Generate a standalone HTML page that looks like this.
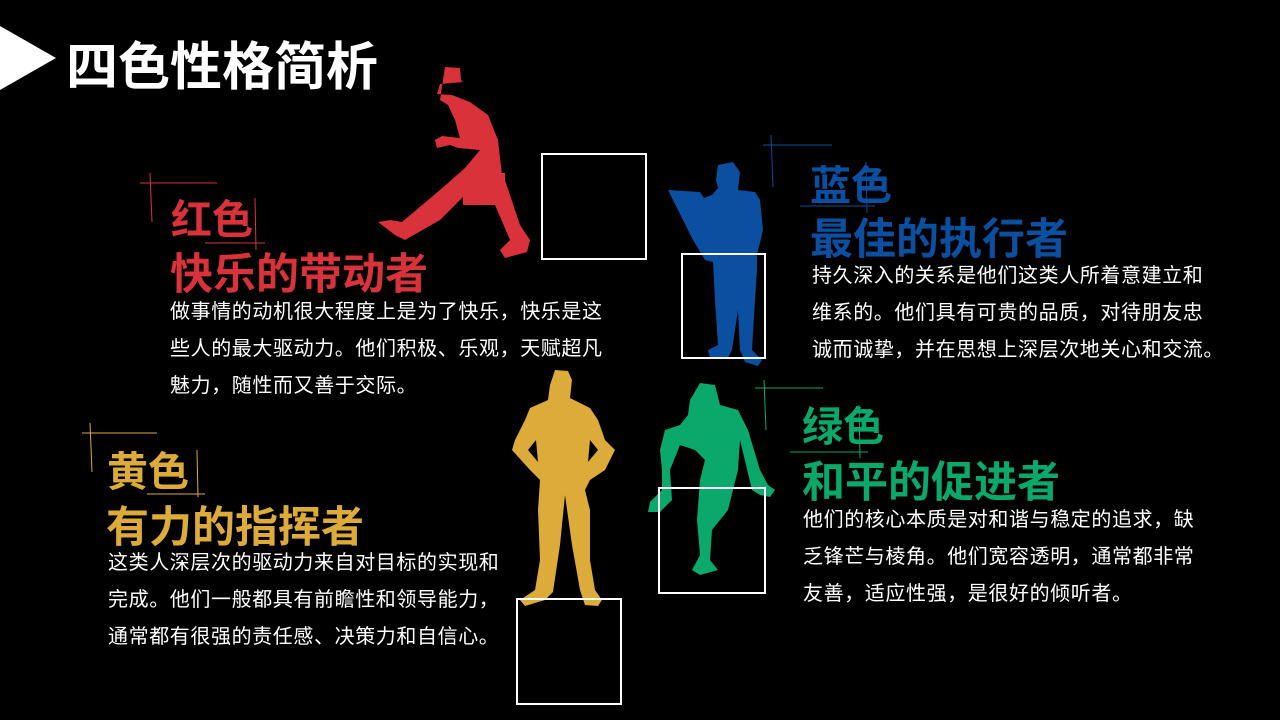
<!DOCTYPE html>
<html><head><meta charset="utf-8"><style>
html,body{margin:0;padding:0;background:#000;}
#c{position:relative;width:1280px;height:720px;background:#000;overflow:hidden;font-family:"Liberation Sans","Noto Sans CJK SC",sans-serif;}
.t{position:absolute;white-space:nowrap;font-weight:bold;}
.b{position:absolute;color:#fff;font-size:20px;letter-spacing:0.6px;line-height:37px;white-space:nowrap;}
.box{position:absolute;border:2px solid #fff;box-sizing:border-box;}
</style></head><body><div id="c">
<svg width="1280" height="720" style="position:absolute;left:0;top:0">
<polygon points="0,26 56,58 0,90" fill="#fff"/>
<g fill="#d9323a">
<path d="M445,67 L460,68 L461,80 L463,82 L440,84 L437,94 L452,95 L470,102 L488,115 L498,140 L502,175 L505,180 L520,225 L530,240 L527,252 L505,258 L500,250 L510,240 L495,205 L485,185 L470,190 L440,220 L405,240 L395,235 L378,222 L390,220 L402,222 L440,190 L465,168 L480,150 L458,148 L450,145 L437,148 L435,140 L442,136 L460,138 L455,120 L448,105 L440,100 Z"/>
<rect x="463" y="173" width="42" height="32"/>
</g>
<path fill="#0a4fa0" d="M718,165 L733,162 L740,172 L738,190 L755,192 L760,200 L763,230 L757,255 L757,270 L755,300 L752,350 L762,360 L758,366 L745,362 L740,350 L738,310 L732,350 L728,358 L710,358 L708,350 L718,345 L715,300 L713,262 L705,260 L693,240 L683,220 L668,190 L700,192 L704,198 L712,195 L718,188 L716,180 Z"/>
<path fill="#dcab3a" d="M555,370 L568,371 L572,380 L570,398 L590,408 L598,420 L605,440 L615,450 L605,470 L590,480 L585,490 L590,510 L590,560 L595,590 L602,600 L598,606 L585,605 L580,590 L572,545 L565,495 L560,545 L553,592 L545,600 L525,606 L520,600 L535,590 L540,560 L538,510 L540,480 L530,470 L512,450 L515,440 L525,420 L530,408 L548,400 L550,385 Z"/>
<path fill="#000" d="M528,450 L536,440 L538,462 Z M598,450 L590,440 L588,462 Z"/>
<path fill="#0aa86a" d="M700,383 L715,385 L720,405 L738,410 L748,430 L760,470 L768,485 L775,490 L770,497 L760,495 L752,490 L740,440 L738,470 L728,510 L712,530 L710,560 L718,570 L700,575 L692,570 L700,555 L697,520 L700,480 L705,460 L695,450 L680,445 L670,470 L672,500 L660,512 L648,512 L650,502 L662,490 L662,470 L660,450 L665,430 L680,425 L688,415 L690,400 Z"/>
<g stroke-width="1">
<g stroke="#d9323a"><line x1="140" y1="183" x2="217" y2="183"/><line x1="150" y1="173" x2="152" y2="222"/><line x1="255" y1="198" x2="256" y2="250"/><line x1="205" y1="243" x2="265" y2="243"/></g>
<g stroke="#dcab3a"><line x1="82" y1="433" x2="157" y2="433"/><line x1="90" y1="423" x2="92" y2="472"/><line x1="197" y1="450" x2="198" y2="497"/><line x1="147" y1="494" x2="205" y2="494"/></g>
<g stroke="#0a4fa0"><line x1="763" y1="145" x2="832" y2="145"/><line x1="771" y1="135" x2="773" y2="187"/><line x1="866" y1="162" x2="867" y2="213"/><line x1="800" y1="206" x2="875" y2="206"/></g>
<g stroke="#0aa86a"><line x1="755" y1="388" x2="823" y2="388"/><line x1="764" y1="380" x2="766" y2="430"/><line x1="859" y1="405" x2="860" y2="458"/><line x1="790" y1="452" x2="868" y2="452"/></g>
</g>
</svg>
<div class="box" style="left:541px;top:153px;width:106px;height:107px"></div>
<div class="box" style="left:681px;top:253px;width:85px;height:106px"></div>
<div class="box" style="left:658px;top:487px;width:108px;height:107px"></div>
<div class="box" style="left:516px;top:598px;width:106px;height:107px"></div>
<div class="t" style="left:66px;top:25px;font-size:52px;color:#fff;">四色性格简析</div>
<div class="t" style="left:171px;top:186px;font-size:41px;color:#d9323a;">红色</div>
<div class="t" style="left:170px;top:240px;font-size:43px;color:#d9323a;">快乐的带动者</div>
<div class="b" style="left:170px;top:294px;">做事情的动机很大程度上是为了快乐，快乐是这<br>些人的最大驱动力。他们积极、乐观，天赋超凡<br>魅力，随性而又善于交际。</div>
<div class="t" style="left:107px;top:438px;font-size:41px;color:#dcab3a;">黄色</div>
<div class="t" style="left:106px;top:493px;font-size:43px;color:#dcab3a;">有力的指挥者</div>
<div class="b" style="left:108px;top:545px;">这类人深层次的驱动力来自对目标的实现和<br>完成。他们一般都具有前瞻性和领导能力，<br>通常都有很强的责任感、决策力和自信心。</div>
<div class="t" style="left:810px;top:152px;font-size:41px;color:#0a4fa0;">蓝色</div>
<div class="t" style="left:810px;top:205px;font-size:43px;color:#0a4fa0;">最佳的执行者</div>
<div class="b" style="left:812px;top:258px;">持久深入的关系是他们这类人所着意建立和<br>维系的。他们具有可贵的品质，对待朋友忠<br>诚而诚挚，并在思想上深层次地关心和交流。</div>
<div class="t" style="left:802px;top:393px;font-size:41px;color:#0aa86a;">绿色</div>
<div class="t" style="left:802px;top:448px;font-size:43px;color:#0aa86a;">和平的促进者</div>
<div class="b" style="left:803px;top:502px;">他们的核心本质是对和谐与稳定的追求，缺<br>乏锋芒与棱角。他们宽容透明，通常都非常<br>友善，适应性强，是很好的倾听者。</div>
</div></body></html>
